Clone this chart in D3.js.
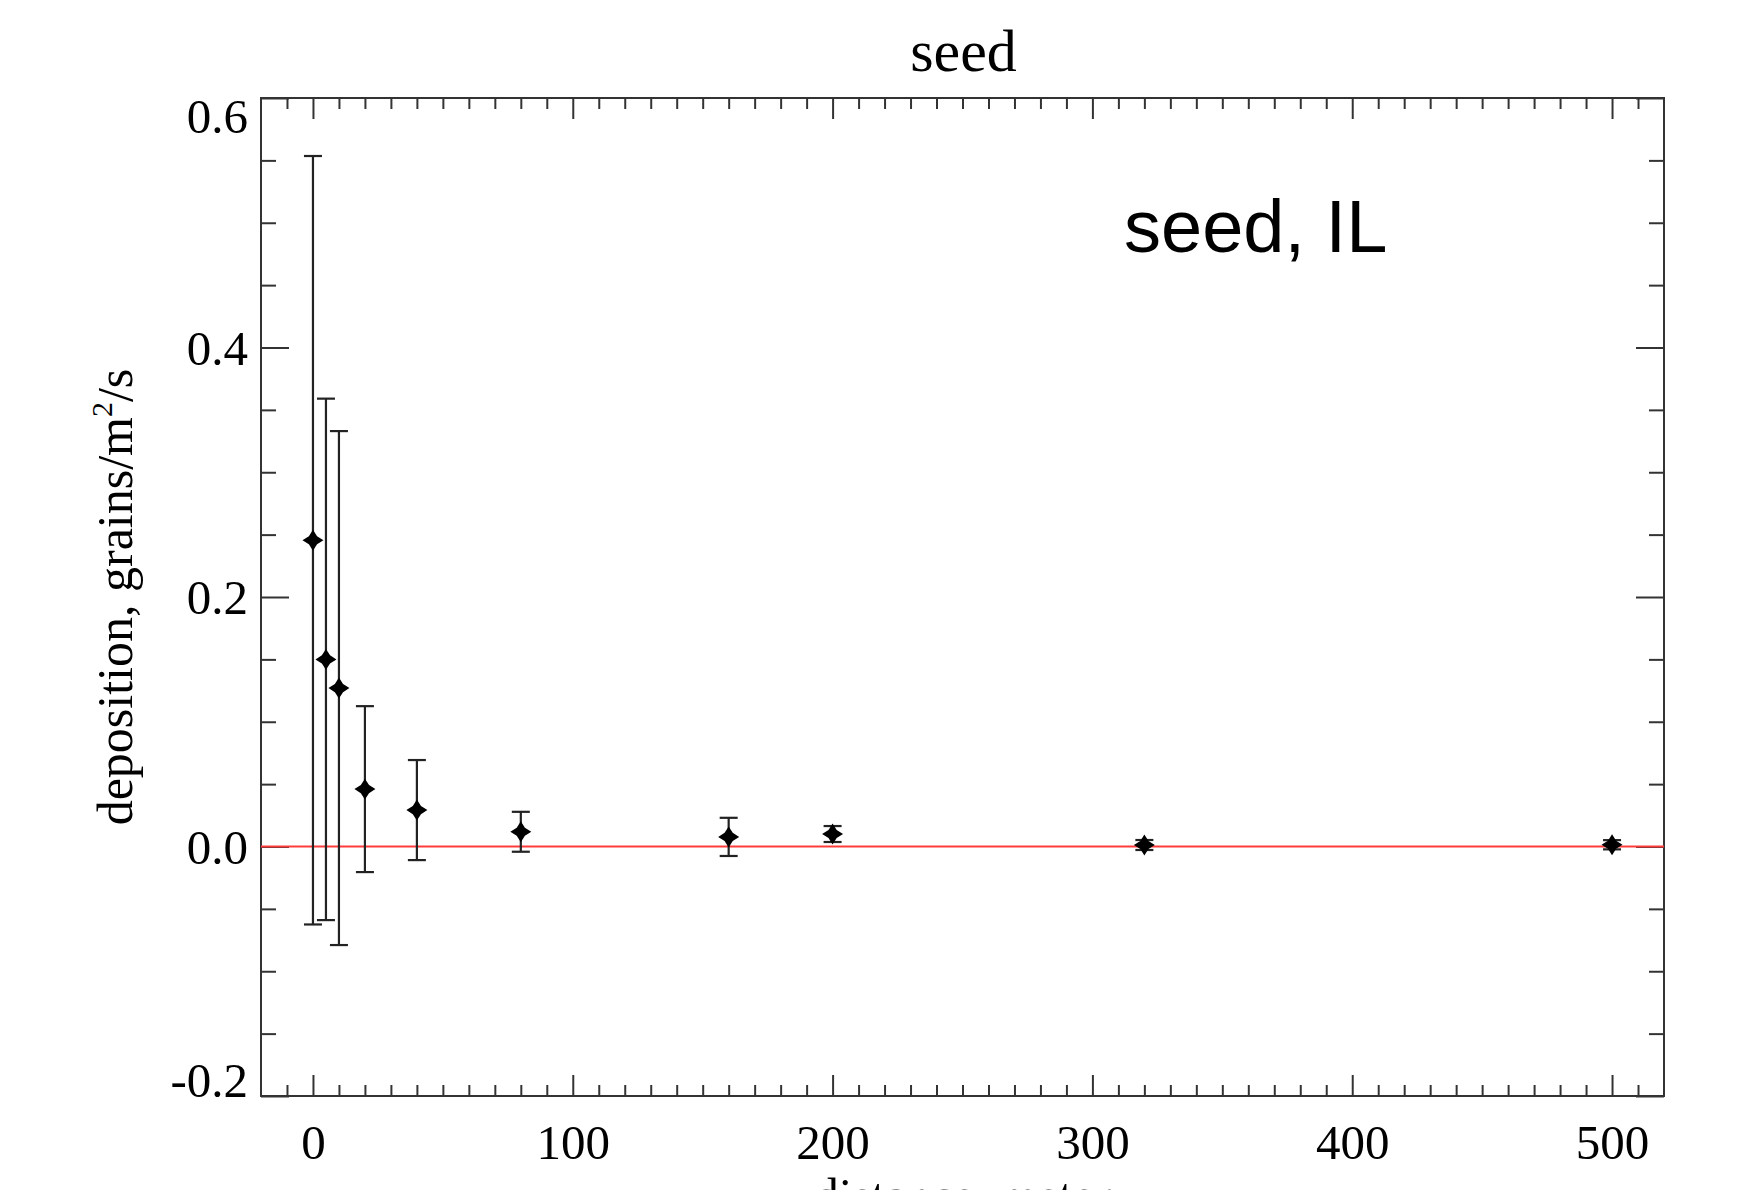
<!DOCTYPE html>
<html>
<head>
<meta charset="utf-8">
<script src="https://cdn.jsdelivr.net/npm/d3@7"></script>
<style>
  html, body { margin: 0; padding: 0; background: #fff; }
  svg { display: block; }
  text { font-family: "Liberation Serif", "Times New Roman", serif; fill: #000; }
</style>
</head>
<body>
<svg id="chart" width="1742" height="1190"></svg>
<script>
// ---- data ----
const distance   = [0, 5, 10, 20, 40, 80, 160, 200, 320, 500];
const deposition = [0.2455, 0.150, 0.127, 0.046, 0.0292, 0.0118, 0.0077, 0.0100, 0.0012, 0.0014];
const errorBar   = [0.308, 0.209, 0.206, 0.0665, 0.0401, 0.0160, 0.0153, 0.0064, 0.0040, 0.0037];
const xTicks = [0, 100, 200, 300, 400, 500];
const yTicks = [-0.2, 0.0, 0.2, 0.4, 0.6];
const titleText = "seed";
const annotation = "seed, IL";
const xLabel = "distance, meter";

(function () {
// ---- layout ----
const pL = 261, pR = 1664, pT = 98, pB = 1096;
const axisColor = "#333";

const svg = d3.select("#chart");

const x = d3.scaleLinear().domain([-20, 520]).range([pL, pR]);
const y = d3.scaleLinear().domain([-0.2, 0.6]).range([pB, pT]);

const xMinor = d3.range(-10, 520, 10).filter(v => v % 100 !== 0);
const yMinor = d3.range(0, 17).filter(i => i % 4 !== 0).map(i => +(-0.2 + i * 0.05).toFixed(2));

const xMajLen = 21, xMinLen = 11, yMajLen = 28, yMinLen = 15;
const serif = '"Liberation Serif", "Times New Roman", serif';

function styleAxis(g) {
  g.select(".domain").remove();
  g.selectAll(".tick line").attr("stroke", axisColor).attr("stroke-width", 2);
}

// bottom axis (major with labels)
const gxb = svg.append("g").attr("transform", `translate(0,${pB})`)
  .call(d3.axisBottom(x).tickValues(xTicks).tickSize(-xMajLen).tickPadding(28).tickFormat(d3.format("d")));
styleAxis(gxb);
gxb.selectAll(".tick text").attr("font-size", 49).attr("y", 63).attr("dy", 0)
  .style("font-family", serif).attr("fill", "#000");
svg.append("g").attr("transform", `translate(0,${pB})`)
  .call(d3.axisBottom(x).tickValues(xMinor).tickSize(-xMinLen).tickFormat(""))
  .call(styleAxis);

// top axis
svg.append("g").attr("transform", `translate(0,${pT})`)
  .call(d3.axisTop(x).tickValues(xTicks).tickSize(-xMajLen).tickFormat(""))
  .call(styleAxis);
svg.append("g").attr("transform", `translate(0,${pT})`)
  .call(d3.axisTop(x).tickValues(xMinor).tickSize(-xMinLen).tickFormat(""))
  .call(styleAxis);

// left axis (major with labels)
const fmtY = d3.format(".1f");
const gyl = svg.append("g").attr("transform", `translate(${pL},0)`)
  .call(d3.axisLeft(y).tickValues(yTicks).tickSize(-yMajLen).tickPadding(13)
    .tickFormat(d => fmtY(d).replace("\u2212", "-")));
styleAxis(gyl);
const digitH = 33;
gyl.selectAll(".tick text")
  .attr("font-size", 49)
  .attr("x", -13)
  .attr("dy", 0)
  .style("font-family", serif).attr("fill", "#000")
  .attr("y", d => {
    const ty = y(d);
    // keep end labels inside the plot's vertical range
    const c = Math.min(Math.max(ty, pT + digitH / 2 + 1), pB - digitH / 2);
    return c - ty + digitH / 2;
  });
svg.append("g").attr("transform", `translate(${pL},0)`)
  .call(d3.axisLeft(y).tickValues(yMinor).tickSize(-yMinLen).tickFormat(""))
  .call(styleAxis);

// right axis
svg.append("g").attr("transform", `translate(${pR},0)`)
  .call(d3.axisRight(y).tickValues(yTicks).tickSize(-yMajLen).tickFormat(""))
  .call(styleAxis);
svg.append("g").attr("transform", `translate(${pR},0)`)
  .call(d3.axisRight(y).tickValues(yMinor).tickSize(-yMinLen).tickFormat(""))
  .call(styleAxis);

// frame
svg.append("rect")
  .attr("x", pL).attr("y", pT)
  .attr("width", pR - pL).attr("height", pB - pT)
  .attr("fill", "none").attr("stroke", axisColor).attr("stroke-width", 2);

// zero line
svg.append("line")
  .attr("x1", x(-20)).attr("x2", x(520))
  .attr("y1", y(0)).attr("y2", y(0))
  .attr("stroke", "#ff3b3b").attr("stroke-width", 2);

// data
const pts = distance.map((d, i) => ({ x: d, v: deposition[i], e: errorBar[i] }));
const capHalf = 9;
const eb = svg.append("g").attr("stroke", "#222").attr("stroke-width", 2.2);
eb.selectAll("line.v").data(pts).join("line").attr("class", "v")
  .attr("x1", d => x(d.x)).attr("x2", d => x(d.x))
  .attr("y1", d => y(d.v + d.e)).attr("y2", d => y(d.v - d.e));
eb.selectAll("line.t").data(pts).join("line").attr("class", "t")
  .attr("x1", d => x(d.x) - capHalf).attr("x2", d => x(d.x) + capHalf)
  .attr("y1", d => y(d.v + d.e)).attr("y2", d => y(d.v + d.e));
eb.selectAll("line.b").data(pts).join("line").attr("class", "b")
  .attr("x1", d => x(d.x) - capHalf).attr("x2", d => x(d.x) + capHalf)
  .attr("y1", d => y(d.v - d.e)).attr("y2", d => y(d.v - d.e));

// 4-point star symbol
const star4 = {
  draw(ctx, size) {
    const R = Math.sqrt(size) / 2;
    const r = R * 0.55;
    const k = r / Math.SQRT2;
    ctx.moveTo(0, -R);
    ctx.lineTo(k, -k);
    ctx.lineTo(R, 0);
    ctx.lineTo(k, k);
    ctx.lineTo(0, R);
    ctx.lineTo(-k, k);
    ctx.lineTo(-R, 0);
    ctx.lineTo(-k, -k);
    ctx.closePath();
  }
};
svg.append("g").selectAll("path").data(pts).join("path")
  .attr("transform", d => `translate(${x(d.x)},${y(d.v)})`)
  .attr("d", d3.symbol().type(star4).size(440))
  .attr("fill", "#000");

// title
svg.append("text")
  .attr("x", (pL + pR) / 2 + 1).attr("y", 71)
  .attr("text-anchor", "middle").attr("font-size", 60)
  .text(titleText);

// annotation
svg.append("text")
  .attr("x", 1124).attr("y", 252)
  .attr("font-size", 74)
  .style("font-family", '"Liberation Sans", Arial, sans-serif')
  .text(annotation);

// x label (cut by the bottom edge as in the reference)
svg.append("text")
  .attr("x", (pL + pR) / 2).attr("y", 1212)
  .attr("text-anchor", "middle").attr("font-size", 49)
  .text(xLabel);

// y label
const yl = svg.append("text")
  .attr("transform", `translate(132,${(pT + pB) / 2}) rotate(-90)`)
  .attr("text-anchor", "middle").attr("font-size", 50);
yl.append("tspan").text("deposition, grains/m");
yl.append("tspan").attr("font-size", 30).attr("dy", -20).text("2");
yl.append("tspan").attr("dy", 20).text("/s");
})();
</script>
</body>
</html>
